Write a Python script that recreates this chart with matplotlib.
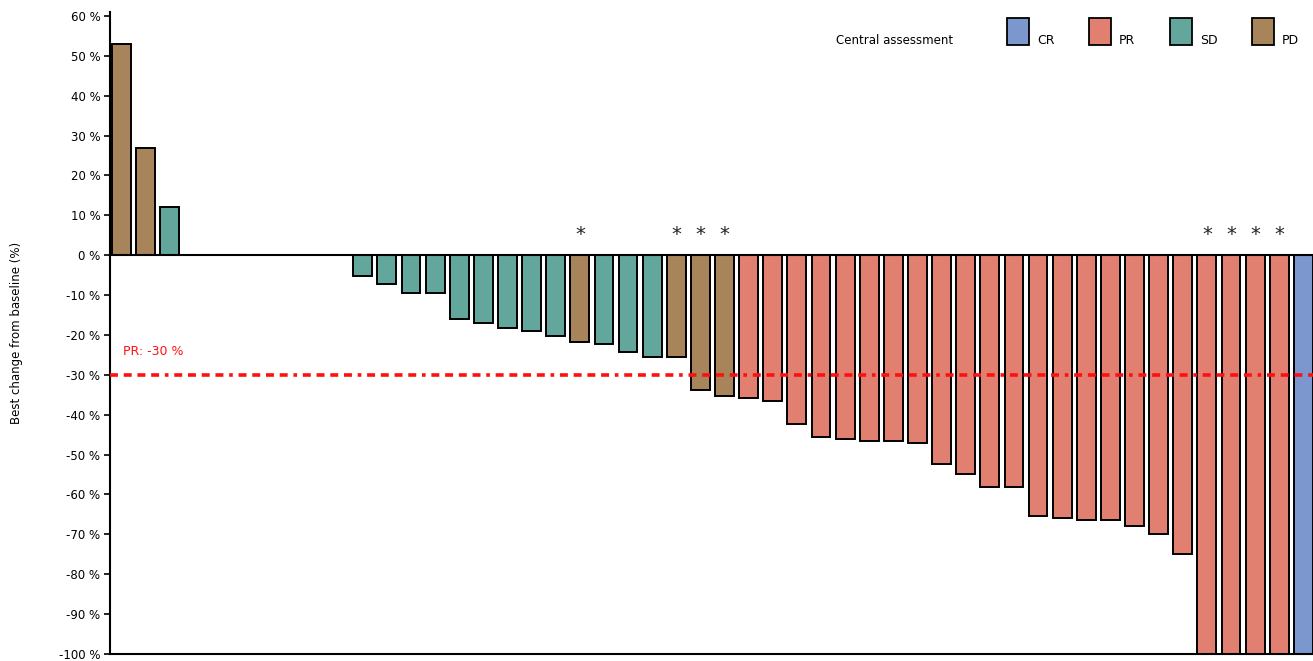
import matplotlib
matplotlib.use("Agg")
import matplotlib.pyplot as plt
from matplotlib.patches import Rectangle

# ---- data ----
values = [53, 27, 12, 0, 0, 0, 0, 0, 0, 0,
          -5.2, -7.3, -9.5, -9.5, -16.0, -16.9, -18.2, -19.0, -20.3, -21.7,
          -22.2, -24.2, -25.4, -25.4, -33.8, -35.2, -35.7, -36.6, -42.2, -45.7,
          -46.2, -46.6, -46.6, -47.1, -52.3, -54.9, -58.1, -58.1, -65.4, -65.8,
          -66.3, -66.3, -68.0, -69.8, -75.0, -100, -100, -100, -100, -100]
response = ["PD", "PD", "SD", "SD", "SD", "SD", "SD", "SD", "SD", "SD",
            "SD", "SD", "SD", "SD", "SD", "SD", "SD", "SD", "SD", "PD",
            "SD", "SD", "SD", "PD", "PD", "PD", "PR", "PR", "PR", "PR",
            "PR", "PR", "PR", "PR", "PR", "PR", "PR", "PR", "PR", "PR",
            "PR", "PR", "PR", "PR", "PR", "PR", "PR", "PR", "PR", "CR"]
starred = [19, 23, 24, 25, 45, 46, 47, 48]
legend_labels = ["CR", "PR", "SD", "PD"]
colors = {"CR": "#7C97CD", "PR": "#E17F70", "SD": "#62A69C", "PD": "#A8845A"}
yticks = list(range(60, -101, -10))
threshold = -30

W, H = 1313, 661
fig = plt.figure(figsize=(W / 100, H / 100), dpi=100)
ax = fig.add_axes([110 / W, 7 / H, 1 - 110 / W, (654 - 12) / H])

x = list(range(len(values)))
ax.bar(x, values, width=0.78, color=[colors[r] for r in response],
       edgecolor="black", linewidth=1.4, zorder=2)

ax.set_xlim(-0.48, 49.4)
ax.set_ylim(-100, 61)
ax.set_yticks(yticks)
ax.set_yticklabels([f"{t} %" for t in yticks], fontsize=8.5)
ax.set_xticks([])
ax.tick_params(axis="y", direction="out", length=4, width=1.2, pad=3)

for s in ["top", "right"]:
    ax.spines[s].set_visible(False)
ax.spines["left"].set_linewidth(1.5)
ax.spines["bottom"].set_linewidth(1.5)
ax.axhline(0, color="black", linewidth=1.5, zorder=3)

ax.axhline(threshold, color="#FF1010", linewidth=2.6,
           linestyle=(0, (2.2, 1.6, 2.2, 1.6, 2.2, 1.6, 2.2, 1.6, 1.0, 1.6)), zorder=4)
ax.text(0.05, -24.2, "PR: -30 %", color="#FF1010", fontsize=9, ha="left", va="center")

for i in starred:
    ax.text(i, 2.8, "*", fontsize=14, ha="center", va="bottom", color="#222222")

ax.set_ylabel("Best change from baseline (%)", fontsize=8.5, labelpad=26)

# legend drawn manually in figure pixel coordinates
fig.text(836 / W, 1 - 41 / H, "Central assessment", fontsize=8.5, ha="left", va="center")
for k, lab in enumerate(legend_labels):
    x0 = 1007 + 81.7 * k
    fig.patches.append(Rectangle((x0 / W, 1 - 45 / H), 22 / W, 27 / H,
                                 transform=fig.transFigure, facecolor=colors[lab],
                                 edgecolor="black", linewidth=1.3))
    fig.text((x0 + 30) / W, 1 - 41 / H, lab, fontsize=9, ha="left", va="center")

fig.savefig("out.png", dpi=100)
